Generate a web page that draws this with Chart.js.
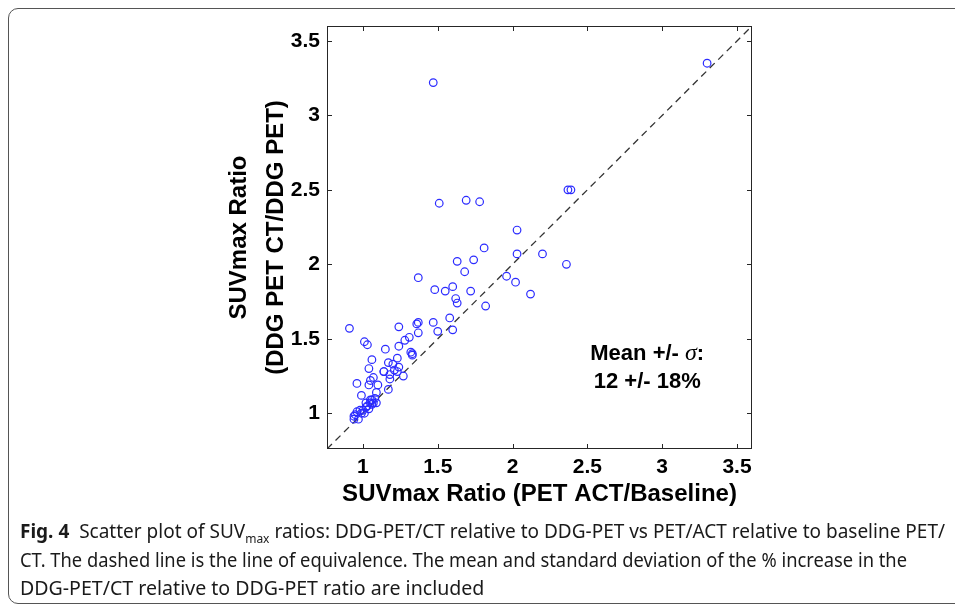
<!DOCTYPE html>
<html lang="en">
<head>
    <meta charset="UTF-8">
    <title>SUVmax Ratio Scatter</title>
    <script src="https://cdn.jsdelivr.net/npm/chart.js"></script>
    <style>
        body {
            margin: 0;
            width: 955px;
            height: 605px;
            overflow: hidden;
            background: #fff;
            position: relative;
        }

        /* figure frame */
        .frame {
            position: absolute;
            left: 8px;
            top: 8px;
            width: 1000px;
            height: 594px;
            border: 1.5px solid #555;
            border-radius: 10px;
        }

        #chartBox {
            position: absolute;
            left: 0;
            top: 0;
        }

        .caption {
            position: absolute;
            left: 20px;
            top: 517px;
            font-family: "Noto Sans", sans-serif;
            font-size: 19px;
            line-height: 28.5px;
            color: #1a1a1a;
        }

        .caption div {
            white-space: nowrap;
            transform-origin: left center;
        }

        .caption .l1 { transform: scaleX(1.0); }
        .caption .l2 { transform: scaleX(0.964); }
        .caption .l3 { transform: scaleX(1.03); }

        .caption b {
            font-weight: 700;
        }

        .caption sub {
            font-size: 12px;
            vertical-align: -5px;
            line-height: 0;
        }
    </style>
</head>
<body>
    <div class="frame"></div>
    <div id="chartBox">
        <canvas id="suvChart" width="955" height="520"></canvas>
    </div>
    <div class="caption">
        <div class="l1"><b>Fig. 4</b>&nbsp; Scatter plot of SUV<sub>max</sub> ratios: DDG-PET/CT relative to DDG-PET vs PET/ACT relative to baseline PET/</div>
        <div class="l2">CT. The dashed line is the line of equivalence. The mean and standard deviation of the % increase in the</div>
        <div class="l3">DDG-PET/CT relative to DDG-PET ratio are included</div>
    </div>

    <script>
        // axis range and ticks (same for both axes)
        const axisMin = 0.76;
        const axisMax = 3.6;
        const tickValues = [1, 1.5, 2, 2.5, 3, 3.5];

        // SUVmax ratio PET ACT / Baseline
        const ratioAct = [
            3.30, 1.47, 2.37, 2.39, 1.51, 1.69, 1.78, 2.03, 1.81, 2.03,
            2.20, 1.63, 1.74, 2.36, 1.68, 1.37, 1.96, 2.02, 1.48, 1.55,
            1.60, 1.72, 2.12, 1.62, 1.63, 1.82, 0.91, 1.24, 1.36, 1.37,
            1.47, 1.58, 1.37, 1.50, 1.60, 1.31, 1.28, 1.01, 1.03, 1.24,
            1.15, 1.32, 1.33, 1.33, 1.23, 1.06, 1.17, 1.20, 1.24, 1.04,
            1.14, 1.14, 1.21, 1.23, 1.18, 1.27, 1.07, 1.05, 1.18, 0.96,
            1.04, 1.10, 1.17, 1.09, 0.99, 1.06, 1.08, 1.09, 1.05, 1.03,
            1.02, 1.04, 1.00, 0.98, 0.96, 0.95, 0.94, 0.94, 0.97, 1.01,
            0.99, 1.05, 1.07, 1.06, 1.02
        ];

        // SUVmax ratio DDG PET CT / DDG PET
        const ratioDdg = [
            3.35, 3.22, 2.50, 2.50, 2.41, 2.43, 2.42, 2.23, 2.11, 2.07,
            2.07, 2.02, 2.03, 2.00, 1.95, 1.91, 1.92, 1.88, 1.83, 1.82,
            1.85, 1.82, 1.80, 1.77, 1.74, 1.72, 1.57, 1.58, 1.60, 1.61,
            1.61, 1.64, 1.54, 1.55, 1.56, 1.51, 1.49, 1.48, 1.46, 1.45,
            1.43, 1.41, 1.40, 1.39, 1.37, 1.36, 1.34, 1.33, 1.31, 1.30,
            1.28, 1.28, 1.29, 1.28, 1.26, 1.25, 1.24, 1.22, 1.23, 1.20,
            1.19, 1.19, 1.16, 1.14, 1.12, 1.09, 1.10, 1.07, 1.07, 1.05,
            1.04, 1.03, 1.02, 1.02, 1.01, 0.99, 0.98, 0.96, 0.96, 1.00,
            1.00, 1.09, 1.07, 1.06, 1.07
        ];

        const statLines = ['Mean +/- ', '12 +/- 18%'];

        const points = ratioAct.map((v, i) => ({ x: v, y: ratioDdg[i] }));
        const equivalence = [axisMin, axisMax].map(v => ({ x: v, y: v }));

        const tickFont = { family: 'Liberation Sans, Arial, sans-serif', size: 21, weight: 'bold' };
        const titleFont = { family: 'Liberation Sans, Arial, sans-serif', size: 24, weight: 'bold' };

        // frame, inward ticks and the mean/sigma text
        const framePlugin = {
            id: 'matlabFrame',
            afterDraw(chart) {
                const { ctx, chartArea, scales } = chart;
                const { left, top, right, bottom } = chartArea;
                ctx.save();
                ctx.strokeStyle = '#262626';
                ctx.lineWidth = 1;
                ctx.strokeRect(left + 0.5, top + 0.5, right - left - 1, bottom - top - 1);
                ctx.beginPath();
                tickValues.forEach(v => {
                    const px = Math.round(scales.x.getPixelForValue(v)) + 0.5;
                    ctx.moveTo(px, bottom); ctx.lineTo(px, bottom - 5);
                    ctx.moveTo(px, top); ctx.lineTo(px, top + 5);
                    const py = Math.round(scales.y.getPixelForValue(v)) + 0.5;
                    ctx.moveTo(left, py); ctx.lineTo(left + 5, py);
                    ctx.moveTo(right, py); ctx.lineTo(right - 5, py);
                });
                ctx.stroke();

                // annotation
                const cx = scales.x.getPixelForValue(2.9);
                const y1 = scales.y.getPixelForValue(1.395);
                const y2 = scales.y.getPixelForValue(1.213);
                ctx.fillStyle = '#000';
                ctx.textBaseline = 'middle';
                const bold = 'bold 22px Liberation Sans, Arial, sans-serif';
                const ital = 'italic 24px Liberation Serif, Times New Roman, serif';
                ctx.font = bold;
                const w1 = ctx.measureText(statLines[0]).width;
                const w3 = ctx.measureText(':').width;
                ctx.font = ital;
                const w2 = ctx.measureText('σ').width;
                let sx = cx - (w1 + w2 + w3) / 2;
                ctx.textAlign = 'left';
                ctx.font = bold;
                ctx.fillText(statLines[0], sx, y1);
                ctx.font = ital;
                ctx.fillText('σ', sx + w1, y1 - 1);
                ctx.font = bold;
                ctx.fillText(':', sx + w1 + w2, y1);
                ctx.textAlign = 'center';
                ctx.fillText(statLines[1], cx, y2);
                ctx.restore();
            }
        };

        const ctx = document.getElementById('suvChart').getContext('2d');
        new Chart(ctx, {
            type: 'scatter',
            data: {
                datasets: [
                    {
                        type: 'scatter',
                        data: points,
                        pointRadius: 3.8,
                        pointBorderWidth: 1.2,
                        borderColor: '#2b2bff',
                        backgroundColor: 'rgba(0,0,0,0)',
                        pointBackgroundColor: 'rgba(0,0,0,0)',
                        order: 0
                    },
                    {
                        type: 'line',
                        data: equivalence,
                        borderColor: '#333',
                        borderWidth: 1.3,
                        borderDash: [7, 5],
                        pointRadius: 0,
                        fill: false,
                        order: 1
                    }
                ]
            },
            options: {
                responsive: false,
                animation: false,
                events: [],
                layout: { padding: { left: 0, top: 26, right: 203, bottom: 0 } },
                plugins: {
                    legend: { display: false },
                    tooltip: { enabled: false }
                },
                scales: {
                    x: {
                        type: 'linear',
                        min: axisMin,
                        max: axisMax,
                        grid: { display: false, drawTicks: false },
                        border: { display: false },
                        afterBuildTicks: s => { s.ticks = tickValues.map(v => ({ value: v })); },
                        afterFit: s => { s.height = 71; },
                        ticks: {
                            font: tickFont,
                            color: '#000',
                            padding: 6,
                            maxRotation: 0,
                            callback: v => String(v)
                        },
                        title: {
                            display: true,
                            text: 'SUVmax Ratio (PET ACT/Baseline)',
                            font: titleFont,
                            color: '#000',
                            padding: { top: 0, bottom: 11 }
                        }
                    },
                    y: {
                        type: 'linear',
                        min: axisMin,
                        max: axisMax,
                        grid: { display: false, drawTicks: false },
                        border: { display: false },
                        afterBuildTicks: s => { s.ticks = tickValues.map(v => ({ value: v })); },
                        afterFit: s => { s.width = 327; },
                        ticks: {
                            font: tickFont,
                            color: '#000',
                            padding: 7,
                            callback: v => String(v)
                        },
                        title: {
                            display: true,
                            text: ['SUVmax Ratio', '(DDG PET CT/DDG PET)'],
                            font: { ...titleFont, lineHeight: 1.55 },
                            color: '#000',
                            padding: { top: 221, bottom: 0 }
                        }
                    }
                }
            },
            plugins: [framePlugin]
        });
    </script>
</body>
</html>
